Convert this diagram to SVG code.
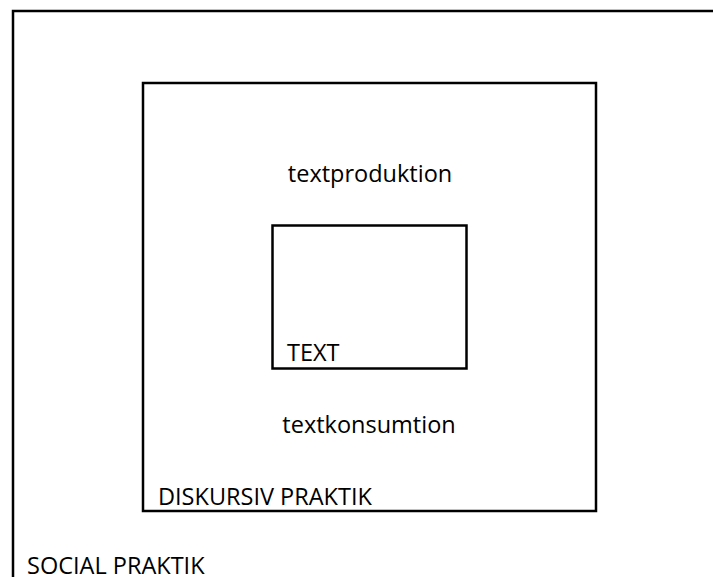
<svg xmlns="http://www.w3.org/2000/svg" width="713" height="577" viewBox="0 0 713 577">
<style>
.box{fill:none;stroke:#000;stroke-width:2.5}
.lbl{font-family:"Open Sans","Liberation Sans",sans-serif;font-size:23.5px;fill:#000}
</style>
<rect width="713" height="577" fill="#fff"/>
<g id="social-praktik">
<path class="box" d="M713 11 H13 V577"/>
<text class="lbl" x="27" y="574">SOCIAL PRAKTIK</text>
</g>
<g id="diskursiv-praktik">
<rect class="box" x="143" y="83" width="453" height="428"/>
<text class="lbl" x="158" y="505">DISKURSIV PRAKTIK</text>
<text class="lbl" x="370" y="182" text-anchor="middle">textproduktion</text>
<text class="lbl" x="369" y="433" text-anchor="middle">textkonsumtion</text>
</g>
<g id="text">
<rect class="box" x="272.5" y="225.5" width="194" height="143"/>
<text class="lbl" x="287" y="361">TEXT</text>
</g>
<g id="connectors"></g>
</svg>
